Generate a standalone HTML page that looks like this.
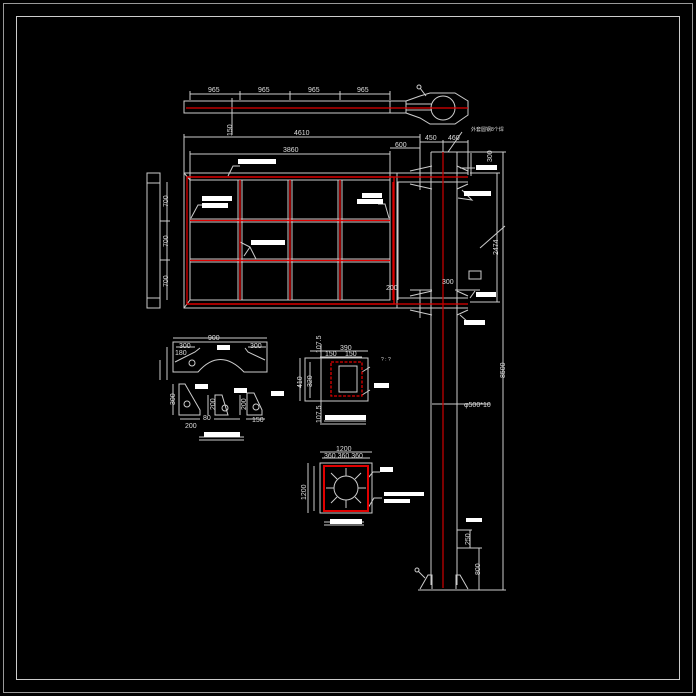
<!DOCTYPE html>
<html><head><meta charset="utf-8"><style>
html,body{margin:0;padding:0;background:#000;}
svg{display:block}
text{font-family:"Liberation Sans","Noto Sans CJK SC",sans-serif;font-size:7px;fill:#ddd}
</style></head><body>
<svg width="696" height="696" viewBox="0 0 696 696" xmlns="http://www.w3.org/2000/svg">
<g fill="none" stroke="#ccc" stroke-width="1">
<rect x="3.5" y="3.5" width="689" height="689" stroke="#999"/>
<rect x="16.5" y="16.5" width="663" height="663"/>

<!-- top plan beam -->
<rect x="184" y="101" width="222" height="12"/>
<line x1="390" y1="101" x2="390" y2="113"/>
<path d="M406 101 L420 96 L430 93 L455 93 L468 101 L468 115 L455 124 L430 124 L420 118 L406 113"/>
<circle cx="443" cy="108" r="12"/>
<line x1="406" y1="104" x2="432" y2="104"/><line x1="406" y1="110" x2="432" y2="110"/>
<line x1="190" y1="94" x2="390" y2="94"/>
<line x1="190" y1="91" x2="190" y2="100"/><line x1="240" y1="91" x2="240" y2="100"/><line x1="290" y1="91" x2="290" y2="100"/><line x1="340" y1="91" x2="340" y2="100"/><line x1="390" y1="91" x2="390" y2="100"/>
<line x1="232" y1="98" x2="232" y2="135"/>
<line x1="420" y1="88" x2="426" y2="96"/><circle cx="419" cy="87" r="2"/>

<!-- dims above frame -->
<line x1="184" y1="137" x2="420" y2="137"/>
<line x1="184" y1="134" x2="184" y2="175"/><line x1="420" y1="134" x2="420" y2="175"/>
<line x1="190" y1="154" x2="390" y2="154"/><line x1="190" y1="151" x2="190" y2="180"/><line x1="390" y1="151" x2="390" y2="180"/>
<line x1="390" y1="148" x2="420" y2="148"/>
<line x1="420" y1="142" x2="443" y2="142"/><line x1="443" y1="142" x2="468" y2="142"/>
<line x1="443" y1="140" x2="443" y2="152"/><line x1="468" y1="140" x2="468" y2="175"/>
<line x1="448" y1="152" x2="462" y2="132"/>

<!-- main frame -->
<rect x="184" y="173" width="213" height="135"/>
<rect x="190" y="180" width="200" height="120"/>
<line x1="184" y1="173" x2="190" y2="180"/><line x1="184" y1="308" x2="190" y2="300"/>
<line x1="397" y1="173" x2="468" y2="173"/><line x1="397" y1="182" x2="468" y2="182"/>
<line x1="397" y1="298" x2="468" y2="298"/><line x1="397" y1="308" x2="468" y2="308"/>
<line x1="238" y1="180" x2="238" y2="300"/><line x1="242" y1="180" x2="242" y2="300"/>
<line x1="288" y1="180" x2="288" y2="300"/><line x1="292" y1="180" x2="292" y2="300"/>
<line x1="338" y1="180" x2="338" y2="300"/><line x1="342" y1="180" x2="342" y2="300"/>
<line x1="190" y1="219" x2="390" y2="219"/><line x1="190" y1="222" x2="390" y2="222"/>
<line x1="190" y1="259" x2="390" y2="259"/><line x1="190" y1="262" x2="390" y2="262"/>
<line x1="398" y1="182" x2="398" y2="300"/>
<!-- arm brackets -->
<path d="M410 171 L432 166 M410 184 L432 189 M457 166 L468 171 M457 189 L468 184"/>
<path d="M410 296 L432 291 M410 310 L432 315 M457 291 L468 296 M457 315 L468 310"/>
<line x1="420" y1="165" x2="420" y2="190"/><line x1="420" y1="290" x2="420" y2="318"/>

<!-- pole -->
<line x1="431" y1="152" x2="431" y2="585"/><line x1="457" y1="152" x2="457" y2="585"/>
<line x1="431" y1="152" x2="457" y2="152"/>
<line x1="418" y1="590" x2="470" y2="590"/>
<path d="M420 589 L428 575 L432 575 L432 589 M468 589 L460 575 L456 575 L456 589"/>
<line x1="418" y1="571" x2="425" y2="578"/><circle cx="417" cy="570" r="2"/>
<!-- right dims -->
<line x1="503" y1="152" x2="503" y2="590"/><line x1="457" y1="152" x2="506" y2="152"/>
<line x1="470" y1="590" x2="506" y2="590"/>
<line x1="497" y1="173" x2="497" y2="302"/><line x1="470" y1="173" x2="500" y2="173"/><line x1="470" y1="302" x2="500" y2="302"/>
<line x1="471" y1="153" x2="471" y2="176"/>
<line x1="480" y1="248" x2="505" y2="226"/>
<rect x="469" y="271" width="12" height="8"/>
<line x1="432" y1="404" x2="490" y2="404"/>
<line x1="479" y1="548" x2="479" y2="590"/><line x1="457" y1="548" x2="482" y2="548"/>
<line x1="470" y1="530" x2="470" y2="548"/><line x1="457" y1="530" x2="472" y2="530"/>
<line x1="410" y1="290" x2="432" y2="290"/><line x1="455" y1="290" x2="480" y2="290"/>

<!-- left side view -->
<rect x="147" y="173" width="13" height="135"/><line x1="147" y1="183" x2="160" y2="183"/><line x1="147" y1="298" x2="160" y2="298"/>
<line x1="167" y1="182" x2="167" y2="300"/><line x1="160" y1="221" x2="170" y2="221"/><line x1="160" y1="260" x2="170" y2="260"/>

<!-- leaders -->
<path d="M228 176 L233 166 L240 166"/><path d="M191 218 L198 205 L205 205"/><path d="M389 218 L385 204 L378 204"/>
<path d="M240 242 L250 247 L256 259 M250 247 L244 256"/>
<path d="M462 190 L472 200 L458 198"/><path d="M460 168 L475 168"/>
<path d="M460 315 L468 322"/><path d="M470 298 L475 291"/>

<!-- arch plate -->
<path d="M173 342 L267 342 L267 372 L244 372 Q220 347 198 372 L173 372 Z"/>
<path d="M175 362 L195 352 L200 348 M265 360 L248 352 L245 348"/>
<line x1="173" y1="338" x2="267" y2="338"/><line x1="176" y1="347" x2="195" y2="347"/><line x1="248" y1="347" x2="266" y2="347"/>
<line x1="167" y1="347" x2="167" y2="380"/><line x1="160" y1="360" x2="160" y2="380"/>
<circle cx="192" cy="363" r="3"/>
<!-- gussets -->
<path d="M179 384 L185 384 L200 410 L200 415 L179 415 Z"/><circle cx="187" cy="404" r="3"/>
<path d="M215 395 L222 395 L228 415 L215 415 Z"/><circle cx="225" cy="408" r="3"/>
<path d="M247 393 L254 393 L262 410 L262 415 L247 415 Z"/><circle cx="256" cy="407" r="3"/>
<line x1="180" y1="419" x2="200" y2="419"/><line x1="214" y1="419" x2="240" y2="419"/><line x1="246" y1="419" x2="265" y2="419"/>
<line x1="173" y1="384" x2="173" y2="415"/><line x1="208" y1="395" x2="208" y2="415"/><line x1="240" y1="395" x2="240" y2="415"/>
<line x1="199" y1="437" x2="244" y2="437"/><line x1="199" y1="440" x2="244" y2="440"/>

<!-- plate 1 -->
<rect x="305" y="358" width="63" height="43"/>
<rect x="339" y="366" width="18" height="26"/>
<line x1="310" y1="351" x2="368" y2="351"/><line x1="320" y1="357" x2="362" y2="357"/>
<line x1="300" y1="358" x2="300" y2="401"/><line x1="310" y1="362" x2="310" y2="398"/>
<line x1="321" y1="344" x2="321" y2="425"/>
<line x1="324" y1="421" x2="366" y2="421"/><line x1="322" y1="424" x2="366" y2="424"/>
<path d="M362 372 L370 367 M362 395 L370 390"/>

<!-- base plate -->
<rect x="320" y="463" width="52" height="50"/>
<circle cx="346" cy="488" r="12"/>
<path d="M346 476 L346 468 M346 500 L346 508 M334 488 L326 488 M358 488 L366 488 M337 479 L331 473 M355 479 L361 473 M337 497 L331 503 M355 497 L361 503"/>
<line x1="320" y1="452" x2="372" y2="452"/><line x1="322" y1="458" x2="370" y2="458"/>
<line x1="308" y1="463" x2="308" y2="513"/><line x1="314" y1="466" x2="314" y2="511"/>
<line x1="324" y1="522" x2="364" y2="522"/><line x1="324" y1="525" x2="364" y2="525"/>
<path d="M368 478 L373 472 L380 472 M368 508 L374 498 L382 498"/>
</g>

<!-- red lines -->
<g stroke="#e00000" stroke-width="1.3" fill="none">
<line x1="186" y1="108" x2="468" y2="108"/>
<rect x="187" y="177" width="207" height="127"/>
<line x1="187" y1="177" x2="468" y2="177"/><line x1="187" y1="304" x2="468" y2="304"/>
<line x1="240" y1="180" x2="240" y2="300"/><line x1="290" y1="180" x2="290" y2="300"/><line x1="340" y1="180" x2="340" y2="300"/>
<line x1="190" y1="220.5" x2="390" y2="220.5"/><line x1="190" y1="260.5" x2="390" y2="260.5"/>
<line x1="393" y1="182" x2="393" y2="300"/>
<line x1="443" y1="152" x2="443" y2="588" stroke="#c00000"/>
<rect x="331" y="362" width="31" height="34" stroke-dasharray="3,1.5"/>
<rect x="324" y="466" width="44" height="45" stroke-width="2"/>
</g>

<!-- white label boxes -->
<g fill="#fff">
<rect x="238" y="159" width="38" height="5"/>
<rect x="202" y="196" width="30" height="5"/><rect x="202" y="203" width="26" height="5"/>
<rect x="362" y="193" width="20" height="5"/><rect x="357" y="199" width="26" height="5"/>
<rect x="251" y="240" width="34" height="5"/>
<rect x="476" y="165" width="21" height="5"/>
<rect x="464" y="191" width="27" height="5"/>
<rect x="476" y="292" width="20" height="5"/>
<rect x="464" y="320" width="21" height="5"/>
<rect x="217" y="345" width="13" height="5"/>
<rect x="195" y="384" width="13" height="5"/><rect x="234" y="388" width="13" height="5"/><rect x="271" y="391" width="13" height="5"/>
<rect x="204" y="432" width="36" height="5"/>
<rect x="374" y="383" width="15" height="5"/>
<rect x="325" y="415" width="41" height="5"/>
<rect x="380" y="467" width="13" height="5"/>
<rect x="384" y="492" width="40" height="4"/><rect x="384" y="499" width="26" height="4"/>
<rect x="330" y="519" width="32" height="5"/>
<rect x="466" y="518" width="16" height="4"/>
</g>

<!-- text -->
<g>
<text x="208" y="92">965</text><text x="258" y="92">965</text><text x="308" y="92">965</text><text x="357" y="92">965</text>
<text x="294" y="135">4610</text><text x="283" y="152">3860</text>
<text x="395" y="147">600</text><text x="425" y="140">450</text><text x="448" y="140">460</text>
<text x="471" y="131" style="font-size:5px">外套圆钢8个焊</text>
<text x="175" y="355">180</text>
<text x="208" y="340">900</text><text x="179" y="348">300</text><text x="250" y="348">300</text>
<text x="185" y="428">200</text><text x="203" y="420">80</text><text x="252" y="422">150</text>
<text x="340" y="350">390</text><text x="325" y="356">150</text><text x="345" y="356">150</text>
<text x="336" y="451">1200</text><text x="324" y="458">360 360 360</text>
<text x="381" y="361" style="font-size:5px">? : ?</text>
<text x="464" y="407">φ500*10</text>
<text x="442" y="284">300</text><text x="386" y="290">200</text>
<g transform="rotate(-90)">
<text x="-207" y="168">700</text><text x="-247" y="168">700</text><text x="-287" y="168">700</text>
<text x="-136" y="232">150</text><text x="-162" y="492">300</text><text x="-255" y="498">2474</text>
<text x="-378" y="505">8500</text><text x="-575" y="480">800</text><text x="-545" y="470">250</text>
<text x="-405" y="175">300</text><text x="-410" y="215">200</text><text x="-410" y="246">200</text>
<text x="-388" y="302">410</text><text x="-387" y="312">320</text>
<text x="-353" y="321">107.5</text><text x="-423" y="321">107.5</text>
<text x="-500" y="306">1200</text>
</g>
</g>
</svg>
</body></html>
